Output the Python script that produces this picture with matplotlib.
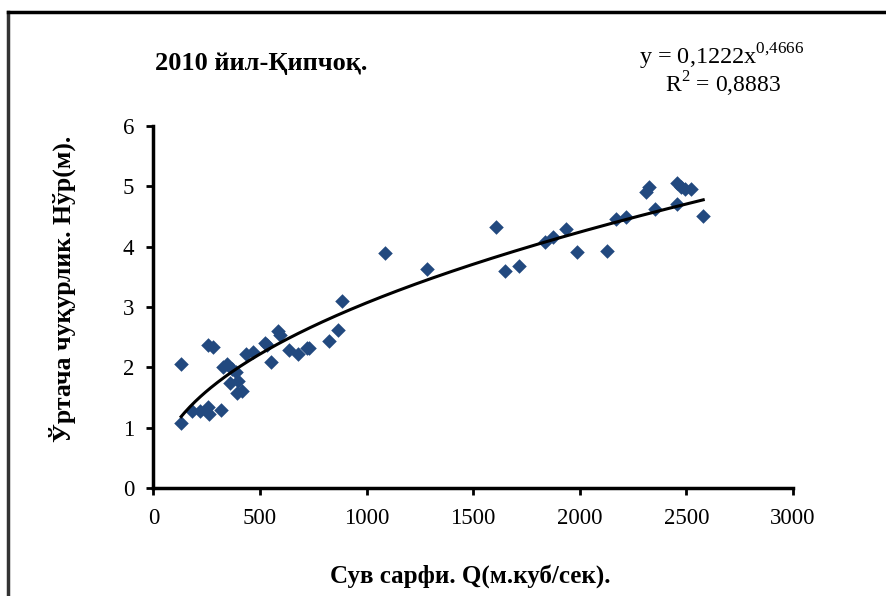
import matplotlib
matplotlib.use('Agg')
import matplotlib.pyplot as plt
import numpy as np

# Data (discharge Q vs mean depth H)
q_flow = [130, 130, 179, 218, 257, 260, 315, 257, 277, 327, 346, 367, 385, 359,
          398, 393, 414, 434, 465, 524, 534, 550, 585, 593, 636, 676, 718, 729,
          823, 867, 886, 1087, 1284, 1605, 1650, 1716, 1836, 1875, 1935, 1986,
          2129, 2172, 2219, 2309, 2325, 2355, 2457, 2473, 2493, 2520, 2457, 2579]
h_depth = [2.06, 1.08, 1.27, 1.28, 1.34, 1.23, 1.30, 2.37, 2.34, 2.01, 2.06, 1.98,
           1.93, 1.74, 1.78, 1.57, 1.61, 2.22, 2.25, 2.41, 2.37, 2.09, 2.60, 2.54,
           2.29, 2.22, 2.32, 2.32, 2.44, 2.62, 3.10, 3.89, 3.62, 4.33, 3.60, 3.67,
           4.08, 4.15, 4.29, 3.91, 3.92, 4.46, 4.49, 4.90, 4.99, 4.62, 5.05, 4.99,
           4.96, 4.96, 4.70, 4.50]

# power trend line from the chart
coef_a = 0.1222
coef_b = 0.4666

x_ticks = [0, 500, 1000, 1500, 2000, 2500, 3000]
y_ticks = [0, 1, 2, 3, 4, 5, 6]

serif = ['Liberation Serif', 'DejaVu Serif']
plt.rcParams['font.family'] = serif
plt.rcParams['mathtext.fontset'] = 'custom'
plt.rcParams['mathtext.rm'] = 'Liberation Serif'

fig = plt.figure(figsize=(8.87, 5.96), dpi=100)
ax = fig.add_axes([0.173, 0.181, 0.721, 0.608])

ax.scatter(q_flow, h_depth, marker='D', s=55, color='#22497f', zorder=3, linewidths=0)

xs = np.linspace(min(q_flow), max(q_flow), 300)
ax.plot(xs, coef_a * xs ** coef_b, color='black', lw=2.2, zorder=4)

ax.set_xlim(0, 3000)
ax.set_ylim(0, 6)
ax.set_xticks(x_ticks)
ax.set_yticks(y_ticks)
ax.tick_params(direction='out', length=5, width=2, labelsize=16.5, pad=9, colors='black')
for side in ['top', 'right']:
    ax.spines[side].set_visible(False)
for side in ['left', 'bottom']:
    ax.spines[side].set_linewidth(2.5)

fig.text(0.53, 0.033, 'Сув сарфи. Q(м.куб/сек).', ha='center', va='center',
         fontsize=18, fontweight='bold')
fig.text(0.07, 0.515, 'Ўртача чуқурлик. Нўр(м).', ha='center', va='center',
         rotation=90, fontsize=18.5, fontweight='bold')
fig.text(0.175, 0.894, '2010 йил-Қипчоқ.', ha='left', va='center',
         fontsize=19, fontweight='bold')
fig.text(0.813, 0.905, r'y = 0,1222x$^{0{,}4666}$', ha='center', va='center', fontsize=17.5)
fig.text(0.815, 0.858, r'R$^{2}$ = 0,8883', ha='center', va='center', fontsize=17)

# frame lines of the chart area (only left and top are visible)
fig.add_artist(plt.Line2D([0.009, 0.009], [0.0, 0.98], color='#333333', lw=2.5))
fig.add_artist(plt.Line2D([0.009, 1.0], [0.98, 0.98], color='black', lw=2.5))

fig.savefig('out.png', dpi=100)
